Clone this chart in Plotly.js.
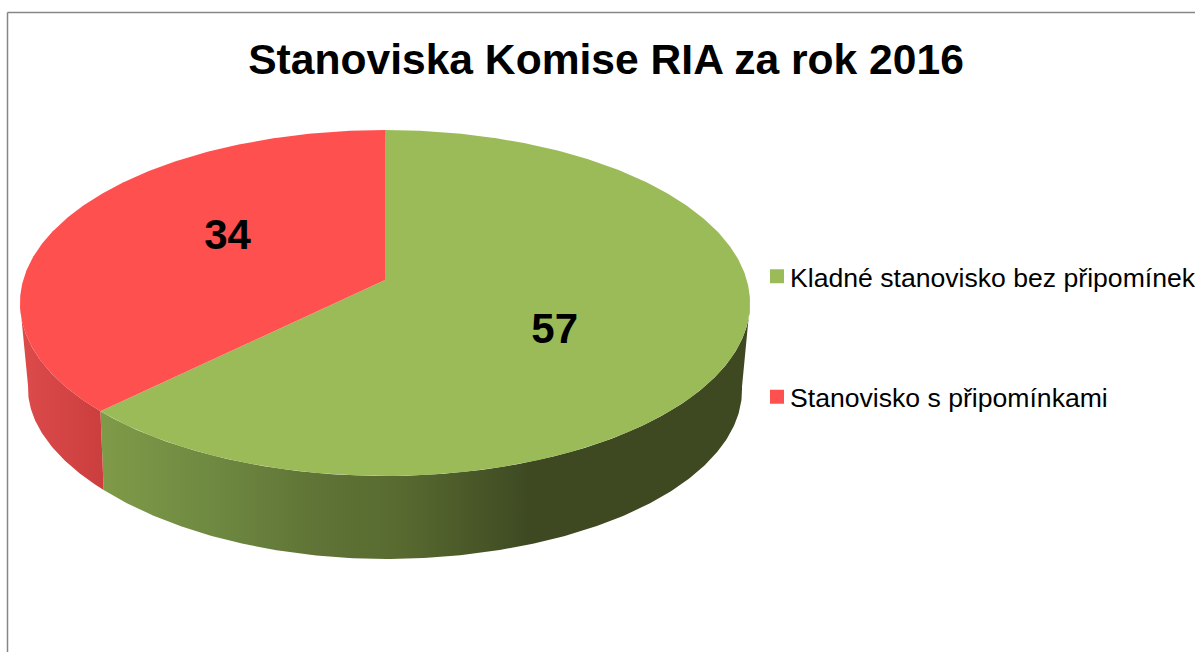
<!DOCTYPE html>
<html>
<head>
<meta charset="utf-8">
<script src="https://cdn.plot.ly/plotly-3.0.1.min.js"></script>
<style>html,body{margin:0;padding:0;background:#fff;overflow:hidden}#chart{width:1195px;height:652px}</style>
</head>
<body>
<div id="chart"></div>
<script>
// Data
var categories = ["Kladné stanovisko bez připomínek", "Stanovisko s připomínkami"];
var counts = [57, 34];
var chartTitle = "Stanoviska Komise RIA za rok 2016";

// Styles
var topColors = ["#9BBB59", "#FF5050"];
var wallScales = [
  [[0, "#7F9B48"], [0.25, "#6F8A41"], [0.5, "#5F7436"], [0.7, "#586A30"], [1, "#3E4922"]],
  [[0, "#DC4A4A"], [1, "#CB3E3E"]]
];
var wallStops = [[100, 530], [25, 105]];
var FONT = "Liberation Sans, Arial, sans-serif";

// Perspective projection of the pie disc
var CX = 385;
var topRim = {yc: 280, A: 169.9, B: 361.8, k: 0.133};
var lowRim = {yc: 364.6, A: 165.2, B: 353, k: 0.15};
function project(rim, theta, r) {
  var u = Math.sin(theta) * r, v = -Math.cos(theta) * r;
  var d = 1 - rim.k * v;
  return [CX + rim.B * u / d, rim.yc + rim.A * v / d, u, v];
}
function lowPoint(theta) {
  var p = project(lowRim, theta, 1);
  var dy = (p[2] < 0 && p[3] > 0) ? -11 * p[2] * p[2] * p[3] : 0;
  return [p[0], p[1] + dy];
}
function arc(fn, a0, a1) {
  var n = Math.max(2, Math.ceil(Math.abs(a1 - a0) / 0.01)), out = [];
  for (var i = 0; i <= n; i++) out.push(fn(a0 + (a1 - a0) * i / n));
  return out;
}
var total = counts.reduce(function (a, b) { return a + b; }, 0);
var angles = [0];
counts.forEach(function (c, i) { angles.push(angles[i] + c / total * 2 * Math.PI); });

var traces = [];
// Side walls (only the part turned to the viewer)
var rightEdge = Math.PI / 2 + Math.asin(topRim.k);
var leftEdge = 2 * Math.PI - rightEdge;
var wallRanges = [[rightEdge, angles[1]], [angles[1], leftEdge]];
wallRanges.forEach(function (rg, i) {
  var up = arc(function (t) { return project(topRim, t, 1); }, rg[0], rg[1]);
  var low = arc(lowPoint, rg[1], rg[0]);
  var pts = up.concat(low);
  traces.push({
    type: "scatter", mode: "lines", x: pts.map(function (p) { return p[0]; }),
    y: pts.map(function (p) { return p[1]; }),
    line: {width: 0}, fill: "toself", showlegend: false, hoverinfo: "skip",
    fillgradient: {type: "horizontal", colorscale: wallScales[i], start: wallStops[i][0], stop: wallStops[i][1]}
  });
});
// Top slices
categories.forEach(function (name, i) {
  var pts = arc(function (t) { return project(topRim, t, 1); }, angles[i], angles[i + 1]);
  pts.push([CX, topRim.yc]);
  traces.push({
    type: "scatter", mode: "lines", name: name,
    x: pts.map(function (p) { return p[0]; }), y: pts.map(function (p) { return p[1]; }),
    line: {width: 0}, fill: "toself", fillcolor: topColors[i], showlegend: false,
    text: name + ": " + counts[i], hoverinfo: "text"
  });
});
// Value labels
counts.forEach(function (c, i) {
  var p = project(topRim, (angles[i] + angles[i + 1]) / 2, 0.49);
  var v = p[3] / 0.49;
  traces.push({
    type: "scatter", mode: "text", x: [p[0] + 2], y: [p[1] + 38 * v + 5], text: [String(c)],
    textposition: "middle center", showlegend: false, hoverinfo: "skip",
    textfont: {family: FONT, size: 42, color: "#000000", weight: 700}
  });
});
// Legend entries
categories.forEach(function (name, i) {
  traces.push({
    type: "scatter", mode: "markers", name: name, legendgroup: "g" + i, x: [null], y: [null],
    marker: {symbol: "square", size: 14, color: topColors[i]}, hoverinfo: "skip"
  });
});

var layout = {
  width: 1195, height: 652, margin: {l: 0, r: 0, t: 0, b: 0, autoexpand: false},
  paper_bgcolor: "#ffffff", plot_bgcolor: "#ffffff",
  title: {text: "<b>" + chartTitle + "</b>", font: {family: FONT, size: 42.6, color: "#000000"},
    x: 606 / 1195, xanchor: "center", xref: "paper", y: 1 - 59 / 652, yanchor: "middle", yref: "container"},
  xaxis: {range: [0, 1195], visible: false, fixedrange: true},
  yaxis: {range: [652, 0], visible: false, fixedrange: true},
  showlegend: true,
  legend: {x: 757 / 1195, y: 1 - 337 / 652, xanchor: "left", yanchor: "middle", yref: "paper",
    orientation: "v", tracegroupgap: 83, traceorder: "grouped", bgcolor: "rgba(0,0,0,0)",
    font: {family: FONT, size: 26.6, color: "#000000"}, itemclick: false, itemdoubleclick: false},
  shapes: [
    {type: "line", x0: 7.5, x1: 7.5, y0: 12.5, y1: 652, line: {color: "#868686", width: 1.5}},
    {type: "line", x0: 7.5, x1: 1195, y0: 12.5, y1: 12.5, line: {color: "#868686", width: 1.5}}
  ]
};
Plotly.newPlot("chart", traces, layout, {displayModeBar: false, responsive: false}).then(function (gd) {
  // Bring the legend text closer to its swatch, as in the reference
  gd.querySelectorAll(".legendtext").forEach(function (t) {
    t.setAttribute("x", parseFloat(t.getAttribute("x")) - 7);
  });
});
</script>
</body>
</html>
